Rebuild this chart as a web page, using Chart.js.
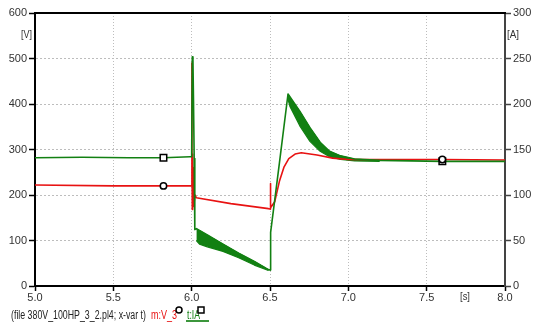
<!DOCTYPE html>
<html>
<head>
<meta charset="utf-8">
<script src="https://cdn.jsdelivr.net/npm/chart.js@4"></script>
<style>
html,body{margin:0;padding:0;background:#fff;}
#wrap{position:relative;width:534px;height:327px;}
canvas{display:block;}
</style>
</head>
<body>
<div id="wrap"><canvas id="c" width="534" height="327"></canvas></div>
<script>
// ---- data (time in s) ----
const xTicks = [5.0, 5.5, 6.0, 6.5, 7.0, 7.5, 8.0];
const vTicks = [0, 100, 200, 300, 400, 500, 600];
const aTicks = [0, 50, 100, 150, 200, 250, 300];

// Red: m:V_3 [V] (left axis)
const tV = [5.0, 5.5, 5.82, 6.0, 6.001, 6.002, 6.004, 6.006, 6.009, 6.012, 6.016, 6.022, 6.03, 6.25, 6.49, 6.5, 6.502, 6.505, 6.53, 6.56, 6.59, 6.62, 6.66, 6.7, 6.8, 6.9, 7.0, 7.6, 8.0];
const vV = [222, 220, 220, 220, 490, 300, 168, 290, 175, 260, 185, 200, 194, 181, 170, 169, 225, 172, 185, 230, 262, 280, 290, 293, 288, 281, 278, 278, 277];

// Green: t:IA [A] (right axis) main trace
const tA = [5.0, 5.3, 5.6, 5.82, 5.99, 6.0, 6.004, 6.008, 6.012, 6.016, 6.02, 6.03, 6.05, 6.1, 6.2, 6.3, 6.4, 6.49, 6.5, 6.503, 6.505, 6.56, 6.615, 6.69, 6.755, 6.82, 6.88, 6.95, 7.04, 7.2, 7.6, 8.0];
const iA = [141, 141.5, 141, 141, 142, 142, 252, 250, 200, 140, 62, 63, 61, 56, 46, 36, 27, 18, 17.5, 40, 59, 135, 211, 192, 174, 158, 148, 143, 139.5, 138, 137, 137];

// Green oscillation envelopes
const tBand1 = [6.03, 6.05, 6.1, 6.2, 6.3, 6.4, 6.49];
const hiBand1 = [63, 61, 56, 46, 36, 27, 18];
const loBand1 = [50, 46, 43, 38, 31, 23, 17];
const tBand2 = [6.615, 6.628, 6.69, 6.755, 6.82, 6.88, 6.95, 7.04, 7.2];
const hiBand2 = [211, 207, 192, 174, 158, 148, 143, 139.5, 138];
const loBand2 = [205, 197, 176, 159, 148, 142, 139, 137.5, 137];

// Marker positions
const markT = [5.82, 7.6];
const markV = [220, 278];
const markA = [141, 137];

const RED = 'rgb(232,18,18)';
const GREEN = 'rgb(18,128,18)';
const FONT = "'Liberation Sans', Arial, sans-serif";

const pts = (xs, ys) => xs.map((x, i) => ({x: x, y: ys[i]}));

function fitText(ctx, str, x, y, w) {
  const m = ctx.measureText(str).width;
  ctx.save();
  ctx.translate(x, y);
  ctx.scale(w / m, 1);
  ctx.fillText(str, 0, 0);
  ctx.restore();
}

const textPlugin = {
  id: 'texts',
  afterDraw(chart) {
    const ctx = chart.ctx;
    const a = chart.chartArea;
    ctx.save();
    // top frame line
    ctx.strokeStyle = '#000';
    ctx.lineWidth = 2;
    ctx.beginPath();
    ctx.moveTo(a.left - 1, a.top);
    ctx.lineTo(a.right + 1, a.top);
    ctx.stroke();

    ctx.font = '11.5px ' + FONT;
    ctx.fillStyle = '#333';
    ctx.textBaseline = 'middle';
    ctx.textAlign = 'left';
    fitText(ctx, '[V]', 21, 35, 11);
    fitText(ctx, '[A]', 507, 35, 12);
    fitText(ctx, '[s]', 460, 297, 10);

    // bottom legend
    ctx.font = '12px ' + FONT;
    const y = 316;
    ctx.fillStyle = '#222';
    fitText(ctx, '(file 380V_100HP_3_2.pl4; x-var t)', 11, y, 135);
    ctx.fillStyle = RED;
    fitText(ctx, 'm:V_3', 151, y, 26);
    // circle marker
    ctx.strokeStyle = '#000';
    ctx.lineWidth = 1.5;
    ctx.fillStyle = '#fff';
    ctx.beginPath();
    ctx.arc(179, 310, 3, 0, Math.PI * 2);
    ctx.fill();
    ctx.stroke();
    ctx.fillStyle = GREEN;
    fitText(ctx, 't:IA', 187, y, 13);
    // square marker
    ctx.fillStyle = '#fff';
    ctx.fillRect(198, 307, 6, 6);
    ctx.strokeRect(198, 307, 6, 6);
    // underline
    ctx.strokeStyle = 'rgb(60,150,60)';
    ctx.lineWidth = 2;
    ctx.beginPath();
    ctx.moveTo(186, 321);
    ctx.lineTo(209, 321);
    ctx.stroke();
    ctx.restore();
  }
};

const tickFont = {family: FONT, size: 11};

new Chart(document.getElementById('c'), {
  type: 'line',
  data: {
    datasets: [
      {label: 'markV', data: pts(markT, markV), yAxisID: 'y', showLine: false,
       pointStyle: 'circle', pointRadius: 3.2, pointBorderWidth: 1.5,
       pointBorderColor: '#000', pointBackgroundColor: '#fff'},
      {label: 'markA', data: pts(markT, markA), yAxisID: 'y1', showLine: false,
       pointStyle: 'rect', pointRadius: 4.6, pointBorderWidth: 1.5,
       pointBorderColor: '#000', pointBackgroundColor: '#fff'},
      {label: 't:IA', data: pts(tA, iA), yAxisID: 'y1', borderColor: GREEN,
       borderWidth: 1.6, pointRadius: 0, tension: 0, fill: false},
      {label: 'm:V_3', data: pts(tV, vV), yAxisID: 'y', borderColor: RED,
       borderWidth: 1.6, pointRadius: 0, tension: 0, fill: false},
      {label: 'b1hi', data: pts(tBand1, hiBand1), yAxisID: 'y1', borderColor: GREEN,
       borderWidth: 1, pointRadius: 0, fill: false},
      {label: 'b1lo', data: pts(tBand1, loBand1), yAxisID: 'y1', borderColor: GREEN,
       borderWidth: 1.2, pointRadius: 0, fill: '-1', backgroundColor: GREEN},
      {label: 'b2hi', data: pts(tBand2, hiBand2), yAxisID: 'y1', borderColor: GREEN,
       borderWidth: 1, pointRadius: 0, fill: false},
      {label: 'b2lo', data: pts(tBand2, loBand2), yAxisID: 'y1', borderColor: GREEN,
       borderWidth: 1.2, pointRadius: 0, fill: '-1', backgroundColor: GREEN}
    ]
  },
  options: {
    responsive: false,
    animation: false,
    devicePixelRatio: 1,
    layout: {padding: {top: 13, left: 0, right: 0, bottom: 0}},
    plugins: {legend: {display: false}, tooltip: {enabled: false}},
    elements: {line: {borderJoinStyle: 'round'}},
    scales: {
      x: {
        type: 'linear', min: 5, max: 8,
        afterBuildTicks: s => { s.ticks = xTicks.map(v => ({value: v})); },
        afterFit: s => { s.height = 41; },
        ticks: {callback: v => v.toFixed(1), color: '#333', font: tickFont, padding: 0, maxRotation: 0},
        grid: {color: '#bdbdbd', lineWidth: 1, tickLength: 5, tickColor: '#000', tickWidth: 1.5, tickBorderDash: []},
        border: {display: true, color: '#000', width: 2, dash: [1, 2]}
      },
      y: {
        position: 'left', min: 0, max: 600,
        afterBuildTicks: s => { s.ticks = vTicks.map(v => ({value: v})); },
        afterFit: s => { s.width = 35; },
        ticks: {color: '#333', font: tickFont, padding: 2},
        grid: {color: '#bdbdbd', lineWidth: 1, tickLength: 6, tickColor: '#000', tickWidth: 1.5, tickBorderDash: []},
        border: {display: true, color: '#000', width: 2, dash: [2, 2]}
      },
      y1: {
        position: 'right', min: 0, max: 300,
        afterBuildTicks: s => { s.ticks = aTicks.map(v => ({value: v})); },
        afterFit: s => { s.width = 29; },
        ticks: {color: '#333', font: tickFont, padding: 2},
        grid: {drawOnChartArea: false, tickLength: 6, tickColor: '#444', tickWidth: 1.5},
        border: {display: true, color: '#444', width: 2}
      }
    }
  },
  plugins: [textPlugin]
});
</script>
</body>
</html>
